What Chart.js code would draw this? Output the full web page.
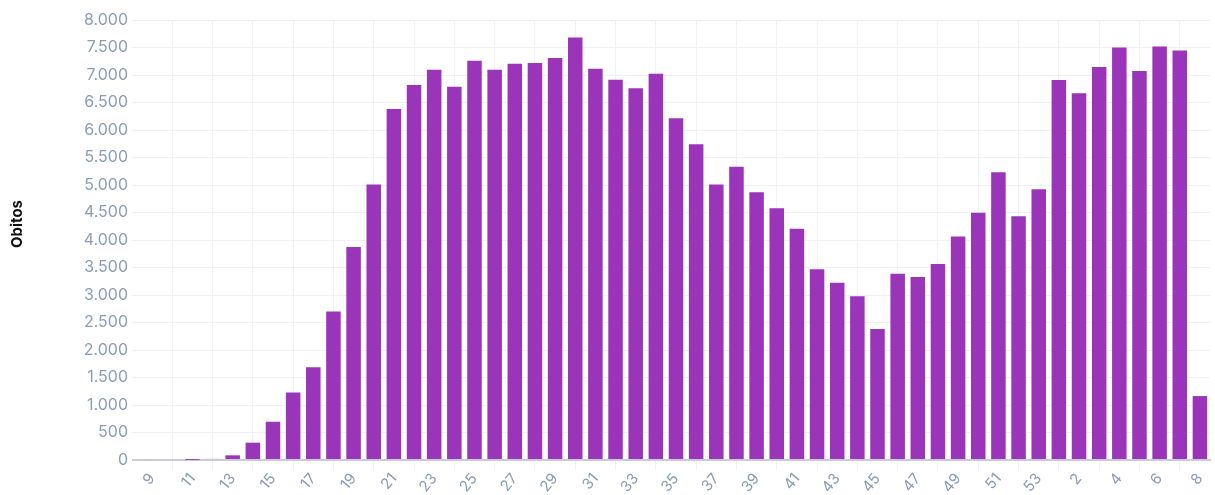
<!DOCTYPE html>
<html>
<head>
<meta charset="utf-8">
<script src="https://cdn.jsdelivr.net/npm/chart.js@4"></script>
<style>
  html, body { margin: 0; padding: 0; background: #fff; }
  #wrap { width: 1215px; height: 495px; }
</style>
</head>
<body>
<div id="wrap"><canvas id="obitosChart"></canvas></div>
<script>
// semanas epidemiologicas (9..53 de 2020, 1..8 de 2021)
const weeks = [9, 10, 11, 12, 13, 14, 15, 16, 17, 18, 19, 20, 21, 22, 23, 24, 25, 26, 27, 28,
  29, 30, 31, 32, 33, 34, 35, 36, 37, 38, 39, 40, 41, 42, 43, 44, 45, 46, 47, 48, 49, 50,
  51, 52, 53, 1, 2, 3, 4, 5, 6, 7, 8];

const deaths = [0, 0, 2, 20, 85, 315, 696, 1228, 1688, 2698, 3872, 5009, 6382, 6818, 7096,
  6788, 7260, 7096, 7205, 7217, 7308, 7683, 7114, 6915, 6757, 7024, 6213, 5741, 5009, 5330,
  4870, 4579, 4205, 3466, 3225, 2976, 2383, 3388, 3327, 3563, 4065, 4495, 5232, 4434, 4924,
  6909, 6666, 7145, 7501, 7072, 7519, 7446, 1162];

const barColor = '#9a35ba';
const tickColor = '#8a9db4';
const gridColor = '#eef2f7';
const axisColor = '#c9cdd3';

function fmt(v) {
    return String(v).replace(/\B(?=(\d{3})+(?!\d))/g, '.');
}

const ctx = document.getElementById('obitosChart').getContext('2d');
const chart = new Chart(ctx, {
    type: 'bar',
    data: {
        labels: weeks,
        datasets: [{
            label: 'Obitos',
            data: deaths,
            backgroundColor: barColor,
            borderWidth: 0
        }]
    },
    options: {
        responsive: true,
        maintainAspectRatio: false,
        animation: false,
        layout: { padding: { top: 20, right: 5, left: 8, bottom: 0 } },
        plugins: {
            legend: { display: false },
            tooltip: { enabled: false }
        },
        scales: {
            x: {
                grid: {
                    color: gridColor,
                    tickLength: 10,
                    tickColor: (c) => c.index === 0 ? axisColor : gridColor
                },
                border: { color: axisColor, width: 2 },
                ticks: {
                    autoSkip: false,
                    minRotation: 50,
                    maxRotation: 50,
                    color: tickColor,
                    font: { family: 'Inter', size: 15 },
                    padding: 0,
                    callback: function(val, i) {
                        return i % 2 === 0 ? this.getLabelForValue(val) : null;
                    }
                },
                afterFit: (axis) => { axis.height = 35; }
            },
            y: {
                min: 0,
                max: 8000,
                border: { display: false },
                grid: {
                    color: (c) => c.tick && c.tick.value === 0 ? axisColor : gridColor,
                    lineWidth: (c) => c.tick && c.tick.value === 0 ? 2 : 1,
                    tickLength: 10
                },
                ticks: {
                    stepSize: 500,
                    color: tickColor,
                    font: { family: 'Inter', size: 16 },
                    padding: 4,
                    callback: (v) => fmt(v)
                },
                title: {
                    display: true,
                    text: '\u00a0'.repeat(9) + 'Obitos',
                    color: '#111',
                    font: { family: 'Inter', size: 15, weight: 'bold' },
                    padding: { top: 0, bottom: 50 }
                },
                afterFit: (axis) => { axis.width = 134; }
            }
        }
    }
});
</script>
</body>
</html>
